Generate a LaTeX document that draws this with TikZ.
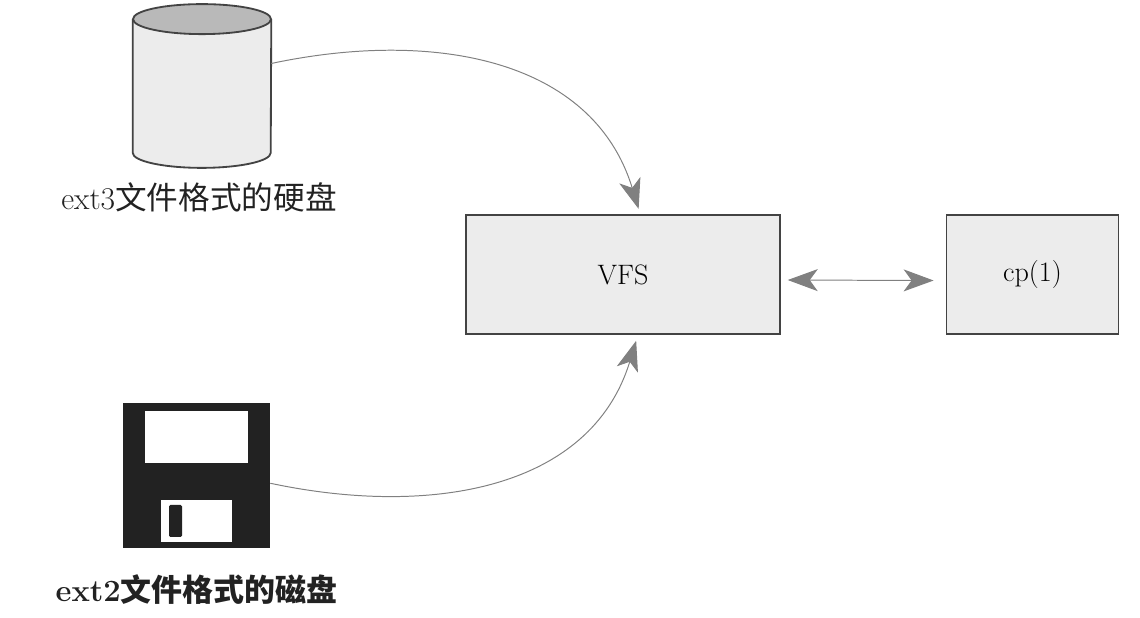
\documentclass[tikz,border=0pt]{standalone}
\usepackage{fontspec}
\newfontfamily\cjk{Noto Sans CJK SC}
\usetikzlibrary{shapes.geometric, arrows.meta, positioning}
\definecolor{inkdark}{HTML}{222222}
\definecolor{boxfill}{HTML}{ECECEC}
\tikzstyle{block} = [rectangle, minimum height=2.975cm, text centered, draw=inkdark!85, fill=boxfill,
    line width=1pt, font=\fontsize{20}{24}\selectfont]
\tikzstyle{caption} = [inner sep=0pt, text=inkdark, font=\fontsize{22.5}{26}\selectfont]
\tikzstyle{hole} = [rectangle, fill=white, inner sep=0pt]
\tikzstyle{disk edge} = [draw=inkdark!85, line width=1.3pt]
\tikzstyle{link} = [draw=gray, line width=0.7pt, -{Stealth[length=0.75cm, width=0.55cm, inset=0.2cm]}]

\begin{document}
\begin{tikzpicture}[node distance=0.4cm and 4.125cm]
  \useasboundingbox (0,0) rectangle (28.5,15.45);

  \node (disk) [rectangle, minimum width=3.45cm, minimum height=4.08cm, inner sep=0pt] at (5.05,13.3) {};
  \draw[disk edge, fill=boxfill] ([yshift=-0.375cm]disk.north west) -- ([yshift=0.375cm]disk.south west)
    arc[start angle=180, end angle=360, x radius=1.725, y radius=0.375] -- ([yshift=-0.375cm]disk.north east);
  \draw[disk edge, fill=gray!55] ([yshift=-0.375cm]disk.north) ellipse [x radius=1.725, y radius=0.375];
  \node (disklabel) [caption, xshift=-0.075cm, below=0.35cm of disk] {ext3{\cjk 文件格式的硬盘}};

  \node (vfs) [block, minimum width=7.85cm] at (15.575,8.5875) {VFS};
  \node (cp)  [block, minimum width=4.3cm, right=of vfs] {cp(1)};

  \node (floppy) [rectangle, fill=inkdark, minimum width=3.675cm, minimum height=3.625cm, inner sep=0pt] at (4.9125,3.5625) {};
  \node (window) [hole, minimum width=2.575cm, minimum height=1.3cm, below=0.2cm of floppy.north] {};
  \node (shutter) [hole, minimum width=1.775cm, minimum height=1.05cm, above=0.15cm of floppy.south] {};
  \node (notch) [rectangle, rounded corners=1pt, fill=inkdark, inner sep=0pt, minimum width=0.325cm, minimum height=0.8cm,
    right=0.2cm of shutter.west] {};
  \node (floppylabel) [caption, font=\fontsize{22}{26}\selectfont\bfseries, below=0.65cm of floppy] {ext2{\cjk 文件格式的磁盘}};

  \draw[link, shorten >=4pt] (disk.18) to[out=12, in=107, looseness=1.05] (vfs.74);
  \draw[link, shorten >=4.5pt] (floppy.-6) to[out=-12, in=-107, looseness=1.05] (vfs.-76);
  \draw[link, {Stealth[length=0.75cm, width=0.55cm, inset=0.2cm]}-{Stealth[length=0.75cm, width=0.55cm, inset=0.2cm]},
    shorten <=5pt, shorten >=8.6pt] (vfs.-2.4) -- (cp.184.3);
\end{tikzpicture}
\end{document}
